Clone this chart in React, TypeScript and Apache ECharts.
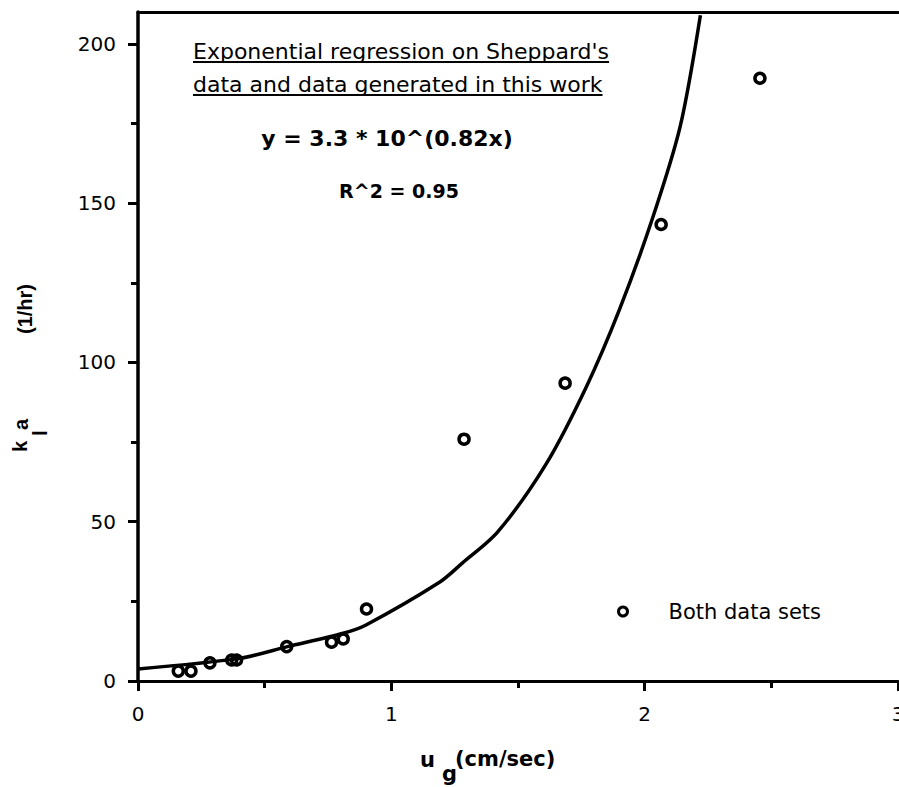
import { useEffect, useRef } from "react";
import * as echarts from "echarts";

// Data points (u_g in cm/sec, k_l a in 1/hr)
const pointX = [0.159, 0.209, 0.284, 0.370, 0.389, 0.587, 0.764, 0.810, 0.902, 1.287, 1.686, 2.065, 2.455];
const pointY = [3.1, 3.1, 5.7, 6.6, 6.6, 10.8, 12.2, 13.2, 22.6, 75.9, 93.5, 143.3, 189.2];

// Regression curve
const curveX = [0, 0.40, 0.59, 0.81, 0.90, 1.19, 1.28, 1.42, 1.61, 1.77, 1.90, 2.03, 2.14, 2.22];
const curveY = [3.8, 7.1, 10.8, 15.0, 17.6, 31.0, 37.0, 46.8, 68.0, 92.4, 116.5, 145, 174, 209];

const xTicks = [0, 1, 2, 3];
const yTicks = [0, 50, 100, 150, 200];
const yMinorTicks = [25, 75, 125, 175];

const seriesName = "Both data sets";
const titleLines = ["Exponential regression on Sheppard's", "data and data generated in this work"];
const equationText = "y = 3.3 * 10^(0.82x)";
const rSquaredText = "R^2 = 0.95";

const HFONT = "DejaVu Sans";
const VFONT = "Liberation Sans";

function measure(text: string, font: string): number {
  const c = document.createElement("canvas").getContext("2d");
  if (!c) return text.length * 11;
  c.font = font;
  return c.measureText(text).width;
}

export default function App() {
  const ref = useRef<HTMLDivElement>(null);
  useEffect(() => {
    const chart = echarts.init(ref.current!, null, { renderer: "svg" });
    const black = "#000";
    const titleSize = 22;
    const titleFont = `${titleSize}px "${HFONT}"`;
    const w1 = measure(titleLines[0], titleFont);
    const w2 = measure(titleLines[1], titleFont);

    const txt = (text: string, x: number, y: number, size: number, weight: string, family: string, rotation = 0, align = "left") => ({
      type: "text",
      x,
      y,
      rotation,
      silent: true,
      style: {
        text,
        fill: black,
        fontSize: size,
        fontWeight: weight,
        fontFamily: family,
        align,
        verticalAlign: "middle",
        textAlign: align,
        textVerticalAlign: "middle",
      },
    });

    const gridBox = { left: 138, right: 1, top: 12, bottom: 106, outerBoundsMode: "none", containLabel: false };

    const option: any = {
      animation: false,
      backgroundColor: "#fff",
      grid: [gridBox, { ...gridBox }],
      legend: {
        data: [{ name: seriesName, icon: "circle" }],
        left: 617,
        top: 601,
        padding: 0,
        itemWidth: 9,
        itemHeight: 9,
        itemStyle: { color: "rgba(0,0,0,0)", borderColor: black, borderWidth: 3 },
        textStyle: { fontFamily: HFONT, fontSize: 21, color: black, padding: [0, 0, 0, 36] },
      },
      xAxis: [
        {
          type: "value",
          gridIndex: 0,
          min: 0,
          max: 3,
          interval: 1,
          position: "bottom",
          axisLine: { show: true, onZero: false, lineStyle: { color: black, width: 3 } },
          axisTick: { show: true, length: 10, customValues: xTicks, lineStyle: { color: black, width: 3 } },
          minorTick: { show: true, splitNumber: 2, length: 7, lineStyle: { color: black, width: 3 } },
          axisLabel: { customValues: xTicks, margin: 23, fontFamily: HFONT, fontSize: 20, color: black },
          splitLine: { show: false },
          minorSplitLine: { show: false },
        },
        {
          type: "value",
          gridIndex: 0,
          min: 0,
          max: 3,
          position: "top",
          axisLine: { show: true, onZero: false, lineStyle: { color: black, width: 3 } },
          axisTick: { show: false },
          axisLabel: { show: false },
          splitLine: { show: false },
        },
        {
          type: "value",
          gridIndex: 1,
          min: 0,
          max: 3,
          show: false,
        },
      ],
      yAxis: [
        {
          type: "value",
          gridIndex: 0,
          min: 0,
          max: 210,
          interval: 50,
          position: "left",
          axisLine: { show: true, onZero: false, lineStyle: { color: black, width: 3.5 } },
          axisTick: { show: true, length: 10, customValues: yTicks, lineStyle: { color: black, width: 3 } },
          axisLabel: { customValues: yTicks, margin: 22, fontFamily: HFONT, fontSize: 20, color: black },
          splitLine: { show: false },
        },
        {
          type: "value",
          gridIndex: 1,
          min: 0,
          max: 210,
          position: "left",
          axisLine: { show: false, onZero: false },
          axisTick: { show: true, length: 7, customValues: yMinorTicks, lineStyle: { color: black, width: 3 } },
          axisLabel: { show: false },
          splitLine: { show: false },
        },
      ],
      series: [
        {
          type: "line",
          name: "fit",
          xAxisIndex: 0,
          yAxisIndex: 0,
          data: curveX.map((x, i) => [x, curveY[i]]),
          showSymbol: false,
          symbol: "none",
          smooth: 0.3,
          clip: true,
          lineStyle: { color: black, width: 3.5 },
          z: 2,
        },
        {
          type: "scatter",
          name: seriesName,
          xAxisIndex: 0,
          yAxisIndex: 0,
          data: pointX.map((x, i) => [x, pointY[i]]),
          symbol: "circle",
          symbolSize: 10,
          itemStyle: { color: "rgba(0,0,0,0)", borderColor: black, borderWidth: 3.5, opacity: 1 },
          z: 3,
        },
      ],
      graphic: [
        txt(titleLines[0], 193, 51, titleSize, "normal", HFONT),
        { type: "line", silent: true, shape: { x1: 193, y1: 62, x2: 193 + w1, y2: 62 }, style: { stroke: black, lineWidth: 2 } },
        txt(titleLines[1], 193, 84, titleSize, "normal", HFONT),
        { type: "line", silent: true, shape: { x1: 193, y1: 95, x2: 193 + w2, y2: 95 }, style: { stroke: black, lineWidth: 2 } },
        txt(equationText, 387, 138, 22, "bold", HFONT, 0, "center"),
        txt(rSquaredText, 399, 191, 19, "bold", HFONT, 0, "center"),
        // x-axis name: u_g(cm/sec)
        txt("u", 420, 760, 21, "bold", HFONT),
        txt("g", 442, 774, 21, "bold", HFONT),
        txt("(cm/sec)", 455, 759, 21, "bold", HFONT),
        // y-axis name: k_l a   (1/hr)
        txt("k", 20, 452, 20, "bold", VFONT, Math.PI / 2),
        txt("l", 40, 436, 20, "bold", VFONT, Math.PI / 2),
        txt("a", 21, 430, 20, "bold", VFONT, Math.PI / 2),
        txt("(1/hr)", 25, 334, 20, "bold", VFONT, Math.PI / 2),
      ],
    };
    chart.setOption(option);
    return () => chart.dispose();
  }, []);
  return (
    <div
      ref={ref}
      style={{ position: "fixed", left: 0, top: 0, width: 899, height: 787, background: "#fff" }}
    />
  );
}
